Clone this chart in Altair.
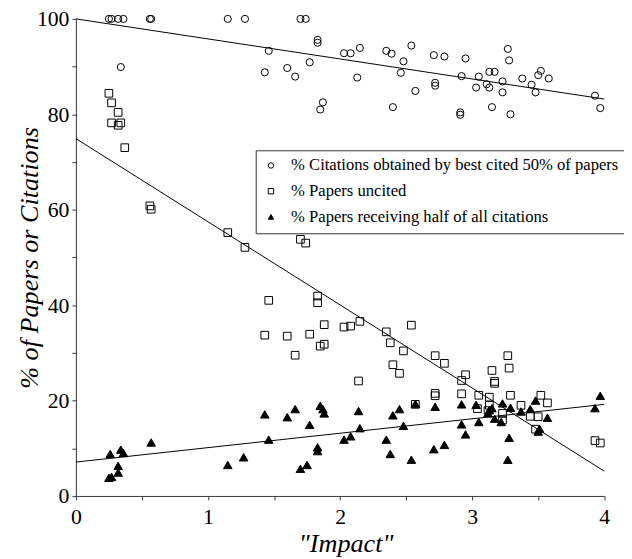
import altair as alt
import pandas as pd

series_names = [
    "% Citations obtained by best cited 50% of  papers",
    "% Papers uncited",
    "% Papers receiving half of all citations",
]

# % Citations obtained by best cited 50% of papers (circles)
cit_x = [0.25, 0.27, 0.32, 0.36, 0.56, 0.57, 1.15, 1.28, 1.70, 1.74,
         1.83, 1.83, 1.46, 2.03, 2.08, 0.34, 1.43, 1.60, 1.66, 1.77,
         1.87, 1.85, 2.13, 2.15, 2.35, 2.39, 2.48, 2.54, 2.46, 2.40,
         2.57, 2.71, 2.79, 2.72, 2.72, 2.95, 2.92, 2.91, 2.91, 3.05,
         3.03, 3.11, 3.13, 3.13, 3.17, 3.15, 3.23, 3.23, 3.27, 3.28,
         3.29, 3.38, 3.45, 3.48, 3.50, 3.52, 3.58, 3.93, 3.97]
cit_y = [100, 100, 100, 100, 100, 100, 100, 100, 100, 100,
         95.6, 95.0, 93.3, 92.8, 92.8, 89.9, 88.8, 89.7, 87.9, 90.9,
         82.5, 81.0, 87.7, 93.9, 93.3, 92.7, 91.1, 94.4, 88.7, 81.5,
         84.9, 92.4, 92.1, 86.6, 86.0, 91.7, 88.0, 80.4, 79.9, 87.9,
         85.6, 86.3, 85.6, 88.9, 88.9, 81.5, 86.9, 84.6, 93.7, 91.3,
         80.0, 87.5, 86.2, 84.6, 88.2, 89.1, 87.5, 83.9, 81.3]

# % Papers uncited (squares)
unc_x = [0.25, 0.27, 0.32, 0.27, 0.32, 0.34, 0.37, 0.56, 0.57,
         1.15, 1.28, 1.70, 1.74, 1.46, 1.43, 1.60, 1.66, 1.77,
         1.83, 1.83, 1.88, 1.85, 1.88, 2.03, 2.08, 2.15, 2.14,
         2.35, 2.54, 2.38, 2.48, 2.40, 2.45, 2.72, 2.79, 2.72, 2.72, 2.57,
         2.92, 2.95, 2.92, 3.27, 3.28, 3.15, 3.17, 3.17,
         3.05, 3.13, 3.13, 3.04, 3.12, 3.23, 3.23, 3.29,
         3.37, 3.44, 3.50, 3.52, 3.57, 3.48, 3.93, 3.97]
unc_y = [84.4, 82.4, 80.4, 78.2, 77.7, 78.2, 73.0, 60.8, 60.1,
         55.2, 52.1, 53.8, 53.0, 41.0, 33.7, 33.5, 29.5, 33.9,
         41.9, 40.5, 35.9, 31.4, 31.8, 35.4, 35.6, 36.6, 24.1,
         34.4, 35.8, 32.1, 30.4, 27.5, 25.7, 29.4, 27.8, 21.5, 21.0, 19.2,
         24.2, 25.4, 21.4, 29.4, 26.8, 26.3, 23.6, 24.0,
         21.1, 20.7, 19.0, 18.3, 17.9, 17.3, 15.9, 21.1,
         19.0, 16.7, 16.6, 21.1, 19.5, 14.0, 11.6, 11.1]

# % Papers receiving half of all citations (triangles)
half_x = [0.26, 0.25, 0.27, 0.32, 0.32, 0.34, 0.36, 0.57,
          1.15, 1.27, 1.43, 1.46, 1.60, 1.66, 1.70, 1.75, 1.77, 1.83, 1.83,
          1.85, 1.87, 1.88, 2.03, 2.08,
          2.14, 2.15, 2.35, 2.38, 2.40, 2.45, 2.48, 2.54, 2.57, 2.71, 2.79,
          2.72, 2.92, 2.92, 2.95, 3.03, 3.05, 3.12, 3.13, 3.15, 3.17,
          3.23, 3.22, 3.28, 3.27, 3.29, 3.37, 3.44, 3.48, 3.50, 3.51,
          3.57, 3.93, 3.97]
half_y = [8.8, 3.8, 4.0, 6.3, 4.9, 9.7, 9.0, 11.2,
          6.5, 8.1, 17.1, 11.8, 16.5, 18.2, 5.7, 6.5, 14.9, 10.2, 9.4,
          18.9, 18.2, 17.3, 11.8, 12.5,
          17.8, 14.2, 11.8, 8.8, 16.9, 18.2, 14.7, 7.6, 19.3, 9.8, 10.7,
          18.7, 19.2, 15.0, 12.9, 19.1, 15.5, 17.3, 18.0, 18.4, 16.2,
          19.4, 15.5, 12.2, 7.6, 18.5, 17.7, 18.2, 20.0, 13.5, 14.1,
          16.4, 18.4, 21.0]

# Trend lines (values read at x = 0 and x = 4)
trend_x = [0, 4]
trend_cit = [100, 83.2]
trend_unc = [74.9, 5.2]
trend_half = [7.1, 19.2]

pts = pd.concat([
    pd.DataFrame({"x": cit_x, "y": cit_y, "series": series_names[0]}),
    pd.DataFrame({"x": unc_x, "y": unc_y, "series": series_names[1]}),
    pd.DataFrame({"x": half_x, "y": half_y, "series": series_names[2]}),
], ignore_index=True)

lines = pd.concat([
    pd.DataFrame({"x": trend_x, "y": trend_cit, "grp": "cit"}),
    pd.DataFrame({"x": trend_x, "y": trend_unc, "grp": "unc"}),
    pd.DataFrame({"x": trend_x, "y": trend_half, "grp": "half"}),
], ignore_index=True)

x_ticks = [0, 0.5, 1, 1.5, 2, 2.5, 3, 3.5, 4]
y_ticks = [0, 10, 20, 30, 40, 50, 60, 70, 80, 90, 100]

SERIF = "Liberation Serif, Times New Roman, Times, DejaVu Serif, serif"

x_enc = alt.X("x:Q", scale=alt.Scale(domain=[0, 4], nice=False, zero=False),
              axis=alt.Axis(values=x_ticks, title='"Impact"',
                            labelExpr="datum.value % 1 === 0 ? format(datum.value, 'd') : ''",
                            labelFlush=False, labelOverlap=False,
                            labelPadding=7, titleX=273, titleY=56.5,
                            titleBaseline="alphabetic", titleAlign="center"))
y_enc = alt.Y("y:Q", scale=alt.Scale(domain=[0, 100], nice=False),
              axis=alt.Axis(values=y_ticks, title="% of Papers or Citations",
                            labelExpr="datum.value % 20 === 0 ? format(datum.value, 'd') : ''",
                            labelFlush=False, labelOverlap=False,
                            labelPadding=3, titleX=-47, titleY=241.4,
                            titleAngle=270, titleBaseline="middle", titleAlign="center"))

legend = alt.Legend(title=None, orient="none", legendX=182, legendY=133,
                    strokeColor="#333", fillColor="white", padding=7,
                    labelFont=SERIF, labelFontSize=16.8, labelColor="black",
                    symbolSize=30, symbolStrokeWidth=1,
                    rowPadding=8, labelOffset=12, labelLimit=500)

enc = dict(
    x=x_enc,
    y=y_enc,
    shape=alt.Shape("series:N", sort=series_names,
                    scale=alt.Scale(domain=series_names,
                                    range=["circle", "square", "triangle-up"]),
                    legend=legend),
    fill=alt.Fill("series:N", sort=series_names,
                  scale=alt.Scale(domain=series_names,
                                  range=["transparent", "transparent", "black"]),
                  legend=legend),
    stroke=alt.Stroke("series:N", sort=series_names,
                      scale=alt.Scale(domain=series_names,
                                      range=["black", "black", "black"]),
                      legend=legend),
)

marker_sizes = [52, 60, 75]
point_layers = [
    alt.Chart(pts).transform_filter(alt.datum.series == name)
    .mark_point(filled=True, size=sz, strokeWidth=1, opacity=1).encode(**enc)
    for name, sz in zip(series_names, marker_sizes)
]

trend = alt.Chart(lines).mark_line(color="black", strokeWidth=1).encode(
    x="x:Q", y="y:Q", detail="grp:N")

chart = alt.layer(trend, *point_layers).properties(
    width=534.7, height=482.8,
    autosize=alt.AutoSizeParams(type="none"),
    padding={"left": 68.7, "top": 7.7, "right": 20, "bottom": 60},
).configure_view(stroke=None).configure_axis(
    grid=False, domainColor="#333", tickColor="#333", tickSize=4,
    labelFont=SERIF, labelFontSize=22, labelColor="black",
    titleFont=SERIF, titleFontSize=26.5, titleFontStyle="italic",
    titleFontWeight="normal", titleColor="black",
)

chart.save("out.html", embed_options={"renderer": "svg", "actions": False})
